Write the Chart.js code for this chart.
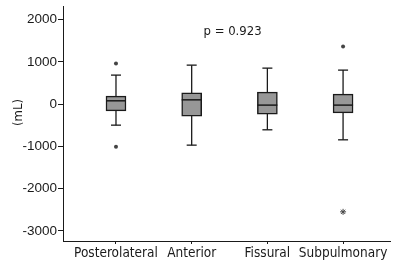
<!DOCTYPE html>
<html>
<head>
<meta charset="utf-8">
<script src="https://cdn.jsdelivr.net/npm/chart.js@4.4.1/dist/chart.umd.min.js"></script>
<style>
    html, body { margin: 0; padding: 0; background: #fff; }
    #wrap { width: 398px; height: 262px; }
</style>
</head>
<body>
<div id="wrap"><canvas id="boxChart"></canvas></div>
<script>
// categories and box plot values (mL)
const categories = ['Posterolateral', 'Anterior', 'Fissural', 'Subpulmonary'];
const whiskerLow = [-499, -972, -609, -846];
const q1Values = [-160, -286, -239, -207];
const medians = [77, 100, -25, -25];
const q3Values = [188, 266, 282, 235];
const whiskerHigh = [685, 921, 850, 803];
// outliers: [category index (1-based), value]
const outliers = [[1, 960], [1, -1012], [4, 1363]];
const extremes = [[4, -2550]];
const yTicks = [-3000, -2000, -1000, 0, 1000, 2000];
const pValueText = 'p = 0.923';
const yTitle = '(mL)';

const FONT = 'DejaVu Sans Condensed';
const NUM_FONT = 'Liberation Sans';
const INK = '#1a1a1a';

const pos = categories.map((c, i) => i + 1);

const whiskerSets = pos.map((x, i) => ({
    type: 'line',
    data: [{ x: x, y: whiskerLow[i] }, { x: x, y: whiskerHigh[i] }],
    borderColor: INK,
    borderWidth: 1.3,
    pointRadius: 0,
    order: 5
}));

// p value and axis title text
const extraText = {
    id: 'extraText',
    afterDraw(chart) {
        const { ctx, scales, chartArea } = chart;
        ctx.save();
        ctx.font = '13px "' + FONT + '"';
        ctx.fillStyle = INK;
        ctx.textAlign = 'center';
        ctx.textBaseline = 'middle';
        ctx.fillText(pValueText, scales.x.getPixelForValue(2.54), scales.y.getPixelForValue(1710));
        ctx.translate(chartArea.left - 44, scales.y.getPixelForValue(-200));
        ctx.rotate(-Math.PI / 2);
        ctx.fillText(yTitle, 0, 0);
        ctx.restore();
    }
};

new Chart(document.getElementById('boxChart'), {
    type: 'bar',
    data: {
        datasets: [
            ...whiskerSets,
            {
                type: 'scatter',
                data: pos.flatMap((x, i) => [{ x: x, y: whiskerLow[i] }, { x: x, y: whiskerHigh[i] }]),
                pointStyle: 'line',
                pointRadius: 5,
                borderColor: INK,
                borderWidth: 1.3,
                order: 4
            },
            {
                type: 'bar',
                data: pos.map((x, i) => ({ x: x, y: [q1Values[i], q3Values[i]] })),
                backgroundColor: '#979797',
                borderColor: INK,
                borderWidth: 1.5,
                borderSkipped: false,
                barThickness: 20,
                order: 3
            },
            {
                type: 'scatter',
                data: pos.map((x, i) => ({ x: x, y: medians[i] })),
                pointStyle: 'line',
                pointRadius: 10,
                borderColor: INK,
                borderWidth: 1.5,
                order: 2
            },
            {
                type: 'scatter',
                data: outliers.map(o => ({ x: o[0], y: o[1] })),
                pointStyle: 'circle',
                pointRadius: 2,
                backgroundColor: '#444',
                borderColor: '#444',
                borderWidth: 0,
                order: 1
            },
            {
                type: 'scatter',
                data: extremes.map(o => ({ x: o[0], y: o[1] })),
                pointStyle: 'star',
                pointRadius: 3,
                borderColor: '#444',
                borderWidth: 1,
                order: 1
            }
        ]
    },
    options: {
        responsive: true,
        maintainAspectRatio: false,
        animation: false,
        layout: { autoPadding: false, padding: { top: 6, right: 8, left: 0, bottom: 0 } },
        plugins: { legend: { display: false }, tooltip: { enabled: false } },
        scales: {
            x: {
                type: 'linear',
                min: 0.3,
                max: 4.62,
                offset: false,
                grid: { display: true, drawOnChartArea: false, drawTicks: true, tickLength: 3, color: INK, offset: false },
                border: { display: true, color: INK, width: 1 },
                afterBuildTicks(scale) {
                    scale.ticks = pos.map(v => ({ value: v }));
                },
                afterFit(scale) {
                    scale.height = 21;
                    scale.paddingLeft = 0;
                    scale.paddingRight = 0;
                },
                ticks: {
                    autoSkip: false,
                    maxRotation: 0,
                    padding: 1,
                    color: INK,
                    font: { family: FONT, size: 13.5 },
                    callback: (v) => categories[v - 1]
                }
            },
            y: {
                min: -3240,
                max: 2320,
                grid: { display: true, drawOnChartArea: false, drawTicks: true, tickLength: 5, color: INK },
                border: { display: true, color: INK, width: 1 },
                afterBuildTicks(scale) {
                    scale.ticks = yTicks.map(v => ({ value: v }));
                },
                afterFit(scale) {
                    scale.width = 63;
                    scale.paddingTop = 0;
                    scale.paddingBottom = 0;
                },
                ticks: {
                    color: INK,
                    padding: 1,
                    font: { family: NUM_FONT, size: 13.5 },
                    callback: (v) => String(v)
                }
            }
        }
    },
    plugins: [extraText]
});
</script>
</body>
</html>
